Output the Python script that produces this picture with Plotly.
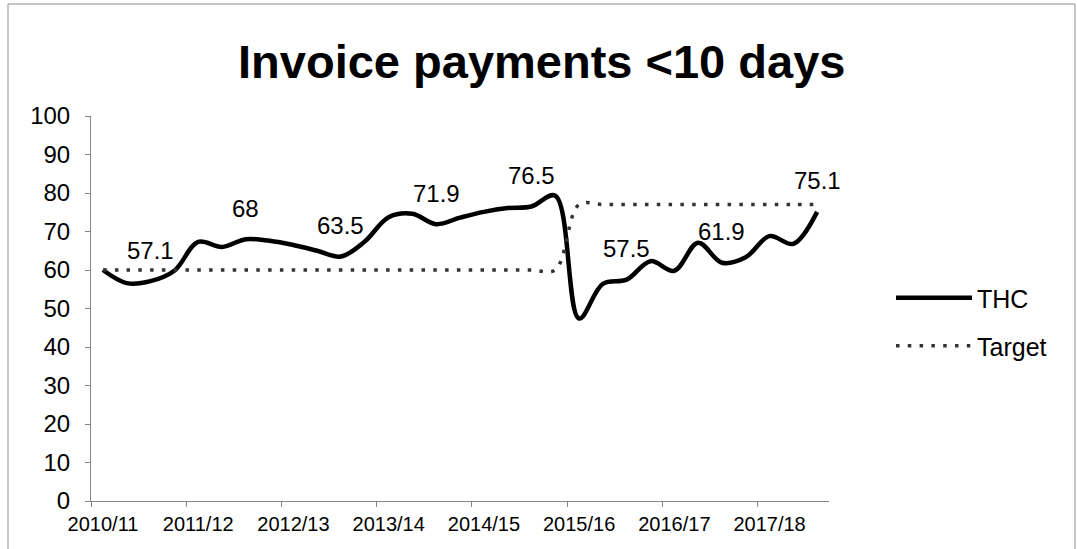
import plotly.graph_objects as go

# quarterly series, 2010/11 Q1 .. 2017/18 Q3
year_labels = ["2010/11", "2011/12", "2012/13", "2013/14",
               "2014/15", "2015/16", "2016/17", "2017/18"]
thc = [60.0, 56.6, 57.1, 59.8,
       67.3, 66.0, 68.0, 67.6,
       66.5, 65.0, 63.5, 67.4,
       73.7, 74.6, 71.9, 73.6,
       75.1, 76.1, 76.5, 79.3,
       47.4, 56.4, 57.5, 62.3,
       59.8, 67.1, 61.9, 63.3,
       68.8, 66.8, 75.1]
target = [60, 60, 60, 60, 60, 60, 60, 60, 60, 60,
          60, 60, 60, 60, 60, 60, 60, 60, 60, 60,
          77, 77, 77, 77, 77, 77, 77, 77, 77, 77, 77]
label_idx = [2, 6, 10, 14, 18, 22, 26, 30]

FONT = "Liberation Sans, Arial, sans-serif"
AXIS_GREY = "#868686"
W, H = 1077, 549
L, R, T, B = 91, 248, 116, 48

x = list(range(len(thc)))

fig = go.Figure()
fig.add_trace(go.Scatter(
    x=x, y=thc, name="THC", mode="lines",
    line=dict(color="#000000", width=4.5, shape="spline"),
    legend="legend", showlegend=True,
))
fig.add_trace(go.Scatter(
    x=x, y=target, name="Target", mode="lines",
    line=dict(color="#333333", width=3.5, shape="spline", dash="3.5px,8.3px"),
    legend="legend2", showlegend=True,
))

for i in label_idx:
    fig.add_annotation(
        x=i, y=thc[i], text=f"{thc[i]:g}", showarrow=False,
        yshift=31, font=dict(family=FONT, size=24, color="#000000"),
    )

# chart frame
pw, ph = W - L - R, H - T - B
fig.add_shape(
    type="rect", xref="paper", yref="paper",
    x0=(8 - L) / pw, x1=(1075 - L) / pw,
    y0=(H - B - 570) / ph, y1=(H - B - 4) / ph,
    line=dict(color="#8c8c8c", width=1), fillcolor="rgba(0,0,0,0)",
    layer="below",
)

legend_style = dict(
    xref="container", yref="container", xanchor="left", yanchor="middle",
    itemwidth=76, font=dict(family=FONT, size=25), bgcolor="rgba(0,0,0,0)",
)

fig.update_layout(
    width=W, height=H,
    margin=dict(l=L, r=R, t=T, b=B),
    paper_bgcolor="white", plot_bgcolor="white",
    font=dict(family=FONT, color="#000000"),
    showlegend=True,
    title=dict(
        text="Invoice payments &lt;10 days",
        font=dict(family=FONT, size=47, color="#000000", weight="bold"),
        x=0.503, xref="container", xanchor="center",
        y=1 - 62 / H, yref="container", yanchor="middle",
    ),
    legend=dict(x=891 / W, y=1 - 298 / H, **legend_style),
    legend2=dict(x=891 / W, y=1 - 346 / H, **legend_style),
)

fig.update_xaxes(
    range=[-0.5, len(thc) - 0.5],
    tickvals=[4 * k - 0.5 for k in range(len(year_labels))],
    ticktext=year_labels, ticklabelshift=12,
    ticks="outside", ticklen=5, tickcolor=AXIS_GREY,
    showline=True, linecolor=AXIS_GREY, linewidth=1,
    showgrid=False, zeroline=False,
    tickfont=dict(family=FONT, size=20, color="#000000"),
)
fig.update_yaxes(
    range=[0, 100], tickvals=list(range(0, 101, 10)),
    ticks="outside", ticklen=5, tickcolor=AXIS_GREY,
    showline=True, linecolor=AXIS_GREY, linewidth=1,
    showgrid=False, zeroline=False, ticklabelstandoff=10,
    tickfont=dict(family=FONT, size=24, color="#000000"),
)

fig.write_html(
    "out.html",
    config={"displayModeBar": False},
    post_script="document.body.style.margin='0px';",
)
